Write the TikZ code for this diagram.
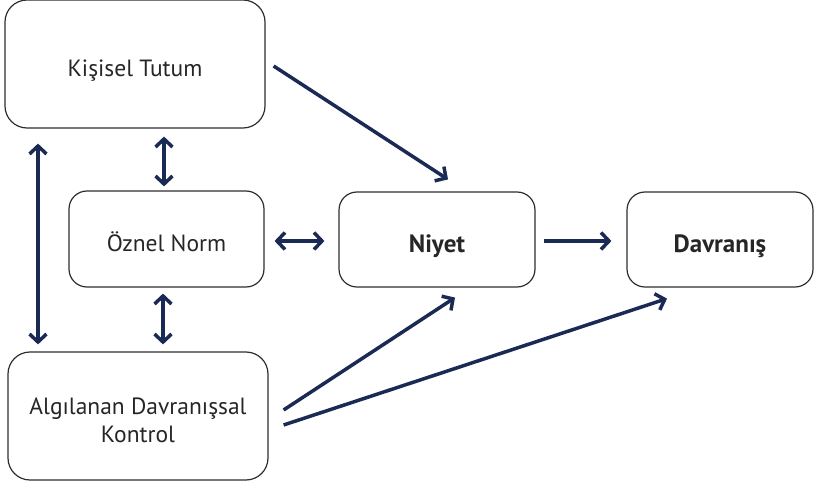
\documentclass[tikz,border=0pt]{standalone}
\usepackage{fontspec}
\setmainfont{PT Sans}
\definecolor{BleuFleche}{HTML}{1B2A55}
\definecolor{GrisCadre}{HTML}{2E2E2E}
\usetikzlibrary{arrows.meta}
\usetikzlibrary{positioning}
\newcommand{\asagi}[1]{\raisebox{-7pt}[\height][\depth]{\begin{tabular}{@{}c@{}}#1\end{tabular}}}

\begin{document}
\begin{tikzpicture}
	[x=1pt, y=-1pt,
	every node/.style = {shape=rectangle, rounded corners=22pt, draw=GrisCadre, line width=1.2pt,
		align=center, inner sep=0pt, text=black!85, font=\fontsize{23.5}{28}\selectfont},
	fleche/.style={draw=BleuFleche, line width=3.5pt, -{Straight Barb[length=8pt,width=17pt]}},
	dfleche/.style={draw=BleuFleche, line width=3.5pt, {Straight Barb[length=8pt,width=17pt]}-{Straight Barb[length=8pt,width=17pt]}}]
	\useasboundingbox (0,0) rectangle (815,484);
	\node[minimum width=260pt, minimum height=128pt] (tutum) at (135,64) {\asagi{Kişisel Tutum}};
	\node[minimum width=195pt, minimum height=96pt, rounded corners=18pt] (norm) at (166.5,239) {\asagi{Öznel Norm}};
	\node[minimum width=196pt, minimum height=95pt, rounded corners=18pt, font=\fontsize{25}{28}\selectfont\bfseries] (niyet) at (437,239.5) {\asagi{Niyet}};
	\node[minimum width=186pt, minimum height=95pt, rounded corners=18pt, font=\fontsize{25}{28}\selectfont\bfseries] (davranis) at (720,239.5) {\asagi{Davranış}};
	\node[minimum width=260pt, minimum height=128pt] (kontrol) at (138,416) {\asagi{Algılanan Davranışsal\\Kontrol}};
	% oklar
	\draw[fleche] ([xshift=8pt,yshift=-2pt]tutum.east) -- ([xshift=11pt,yshift=12pt]niyet.north);
	\draw[dfleche] ([xshift=29pt,yshift=-8pt]tutum.south) -- ([xshift=-2.5pt,yshift=4pt]norm.north);
	\draw[dfleche] ([xshift=-97pt,yshift=-15pt]tutum.south) -- ([xshift=-100pt,yshift=7pt]kontrol.north);
	\draw[dfleche] ([xshift=-3.5pt,yshift=-6pt]norm.south) -- ([xshift=25pt,yshift=7pt]kontrol.north);
	\draw[dfleche] ([xshift=10pt,yshift=-2pt]norm.east) -- ([xshift=-14pt,yshift=-1.5pt]niyet.west);
	\draw[fleche] ([xshift=8pt,yshift=-1.5pt]niyet.east) -- ([xshift=-15pt,yshift=-1.5pt]davranis.west);
	\draw[fleche] ([xshift=15pt,yshift=6pt]kontrol.east) -- ([xshift=18pt,yshift=-10pt]niyet.south);
	\draw[fleche] ([xshift=15pt,yshift=-9pt]kontrol.east) -- ([xshift=-53pt,yshift=-11pt]davranis.south);
\end{tikzpicture}
\end{document}
